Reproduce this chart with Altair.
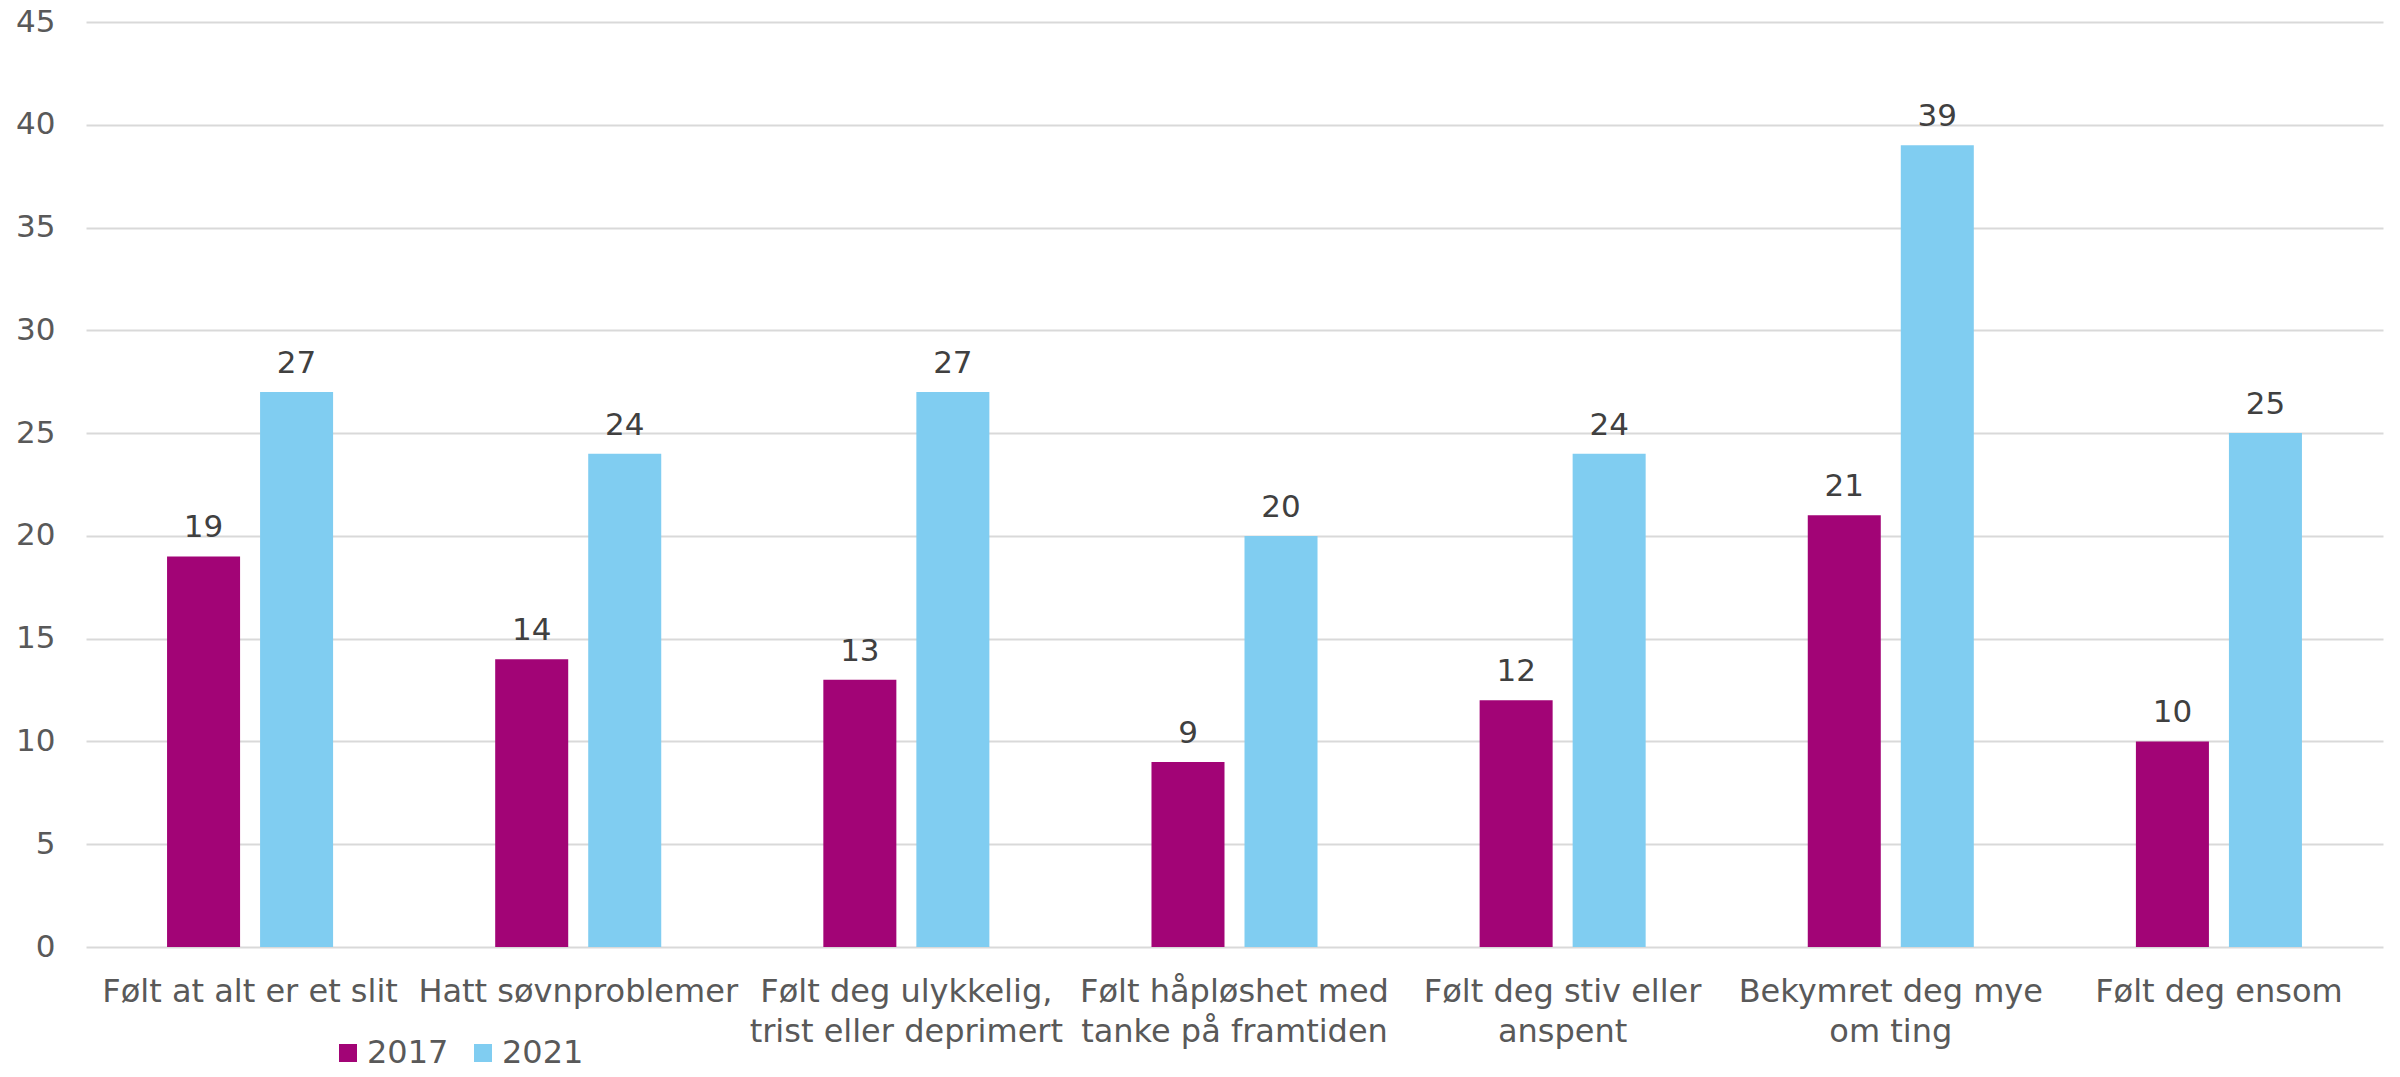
import altair as alt
import pandas as pd

categories = [
    "Følt at alt er et slit",
    "Hatt søvnproblemer",
    "Følt deg ulykkelig,\ntrist eller deprimert",
    "Følt håpløshet med\ntanke på framtiden",
    "Følt deg stiv eller\nanspent",
    "Bekymret deg mye\nom ting",
    "Følt deg ensom",
]
years = ["2017", "2021"]
values_2017 = [19, 14, 13, 9, 12, 21, 10]
values_2021 = [27, 24, 27, 20, 24, 39, 25]
colors = ["#A20476", "#80CDF1"]
y_ticks = [0, 5, 10, 15, 20, 25, 30, 35, 40, 45]

rows = []
for c, a, b in zip(categories, values_2017, values_2021):
    rows.append({"kategori": c, "år": years[0], "verdi": a})
    rows.append({"kategori": c, "år": years[1], "verdi": b})
df = pd.DataFrame(rows)

FONT = "DejaVu Sans"

base = alt.Chart(df).encode(
    x=alt.X(
        "kategori:N",
        sort=categories,
        scale=alt.Scale(paddingInner=0.494, paddingOuter=0.247),
        axis=alt.Axis(
            title=None,
            labelAngle=0,
            labelExpr="split(datum.label, '\\n')",
            labelFont=FONT,
            labelFontSize=32,
            labelColor="#595959",
            labelLimit=0,
            labelOverlap=False,
            labelBound=False,
            labelPadding=29,
            labelBaseline="top",
            labelLineHeight=40,
            domain=False,
            ticks=False,
            grid=False,
        ),
    ),
    xOffset=alt.XOffset(
        "år:N", sort=years, scale=alt.Scale(paddingInner=0.215, paddingOuter=0)
    ),
    y=alt.Y(
        "verdi:Q",
        scale=alt.Scale(domain=[0, 45], nice=False),
        axis=alt.Axis(
            title=None,
            values=y_ticks,
            labelFont=FONT,
            labelFontSize=31,
            labelColor="#595959",
            labelPadding=31,
            domain=False,
            ticks=False,
            grid=True,
            gridColor="#d9d9d9",
            gridWidth=2,
        ),
    ),
)

bars = base.mark_bar().encode(
    color=alt.Color(
        "år:N",
        sort=years,
        scale=alt.Scale(domain=years, range=colors),
        legend=alt.Legend(
            title=None,
            orient="none",
            legendX=246,
            legendY=1015,
            direction="horizontal",
            symbolType="square",
            symbolSize=324,
            symbolStrokeWidth=0,
            labelFont=FONT,
            labelFontSize=32,
            labelColor="#595959",
            labelOffset=3,
            columnPadding=18,
        ),
    )
)

labels = base.mark_text(
    dy=-19, baseline="alphabetic", font=FONT, fontSize=31, color="#404040"
).encode(text="verdi:Q")

chart = (
    alt.layer(bars, labels)
    .properties(
        width=2297,
        height=925,
        autosize=alt.AutoSizeParams(type="none"),
        padding={"left": 78, "top": 14, "right": 9, "bottom": 122},
        background="white",
    )
    .configure_view(stroke=None)
)

chart.save("out.html", embed_options={"renderer": "svg", "actions": False})
